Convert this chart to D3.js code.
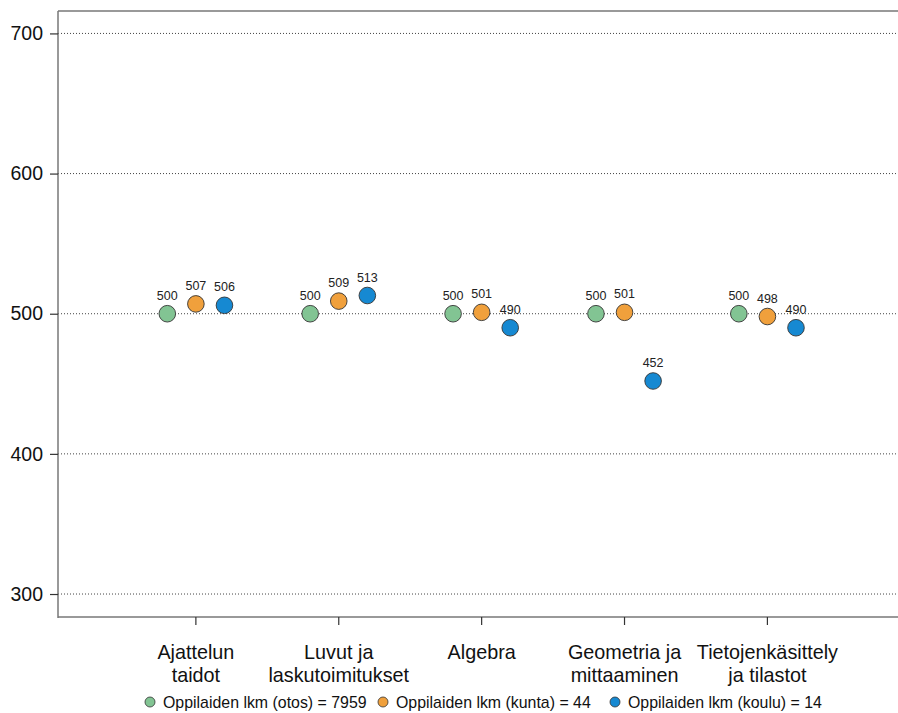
<!DOCTYPE html>
<html><head><meta charset="utf-8">
<script src="https://cdn.jsdelivr.net/npm/d3@7"></script>
<style>body{margin:0;background:#fff}svg{display:block;font-family:"Liberation Sans",Arial,sans-serif}</style>
</head><body><svg id="c" width="898" height="713"></svg>
<script>
const categories = [["Ajattelun","taidot"],["Luvut ja","laskutoimitukset"],["Algebra"],["Geometria ja","mittaaminen"],["Tietojenkäsittely","ja tilastot"]];
const seriesNames = ["Oppilaiden lkm (otos) = 7959","Oppilaiden lkm (kunta) = 44","Oppilaiden lkm (koulu) = 14"];
const otos = [500,500,500,500,500];
const kunta = [507,509,501,501,498];
const koulu = [506,513,490,452,490];
const yTicks = [300,400,500,600,700];
const colors = ["#82c493","#f0a03c","#1689d2"];

(function(){
const svg = d3.select("#c");
const pLeft=58, pTop=11, pBottom=617;
const x = d3.scaleLinear().domain([-0.965,4.97]).range([pLeft,906]);
const y = d3.scaleLinear().domain([283.6,716.0]).range([pBottom,pTop]);

// gridlines
svg.append("g").selectAll("line").data(yTicks).join("line")
  .attr("x1",pLeft).attr("x2",898).attr("y1",d=>y(d)).attr("y2",d=>y(d))
  .attr("stroke","#444").attr("stroke-width",1).attr("stroke-dasharray","1,2");

// frame
svg.append("line").attr("x1",pLeft).attr("x2",898).attr("y1",pTop).attr("y2",pTop).attr("stroke","#999").attr("stroke-width",2);
svg.append("line").attr("x1",pLeft).attr("x2",898).attr("y1",pBottom).attr("y2",pBottom).attr("stroke","#999").attr("stroke-width",2);
svg.append("line").attr("x1",pLeft).attr("x2",pLeft).attr("y1",pTop).attr("y2",pBottom+1).attr("stroke","#777").attr("stroke-width",1.5);

// y axis
const ya = svg.append("g").attr("transform",`translate(${pLeft},0)`)
  .call(d3.axisLeft(y).tickValues(yTicks).tickSize(8).tickPadding(7));
ya.select(".domain").remove();
ya.selectAll(".tick line").attr("stroke","#333").attr("stroke-width",1.2);
ya.selectAll(".tick text").attr("font-size",19.5).attr("fill","#111").attr("font-family","Liberation Sans, Arial, sans-serif");

// x ticks
svg.append("g").selectAll("line").data(categories).join("line")
  .attr("x1",(d,i)=>x(i)).attr("x2",(d,i)=>x(i)).attr("y1",pBottom).attr("y2",pBottom+8)
  .attr("stroke","#333").attr("stroke-width",1.2);
const cl = svg.append("g").selectAll("text").data(categories).join("text")
  .attr("x",(d,i)=>x(i)).attr("y",659).attr("text-anchor","middle").attr("font-size",19.8).attr("fill","#111");
cl.selectAll("tspan").data(d=>d).join("tspan").attr("x",function(){return this.parentNode.getAttribute("x");})
  .attr("dy",(d,j)=>j===0?0:23).text(d=>d);

// points
const series=[otos,kunta,koulu];
const offs=[-0.2,0,0.2];
series.forEach((vals,s)=>{
  const g=svg.append("g");
  g.selectAll("circle").data(vals).join("circle")
    .attr("cx",(d,i)=>x(i+offs[s])).attr("cy",d=>y(d)).attr("r",8.3)
    .attr("fill",colors[s]).attr("stroke","#333").attr("stroke-width",0.9);
  g.selectAll("text").data(vals).join("text")
    .attr("x",(d,i)=>x(i+offs[s])).attr("y",d=>y(d)-14).attr("text-anchor","middle")
    .attr("font-size",12.5).attr("fill","#222").text(d=>d);
});

// legend
const lx=[150,383,615];
const lg=svg.append("g");
seriesNames.forEach((n,i)=>{
  lg.append("circle").attr("cx",lx[i]).attr("cy",702).attr("r",5).attr("fill",colors[i]).attr("stroke","#333").attr("stroke-width",0.8);
  lg.append("text").attr("x",lx[i]+13).attr("y",708).attr("font-size",15.9).attr("fill","#111").text(n);
});
})();
</script></body></html>
